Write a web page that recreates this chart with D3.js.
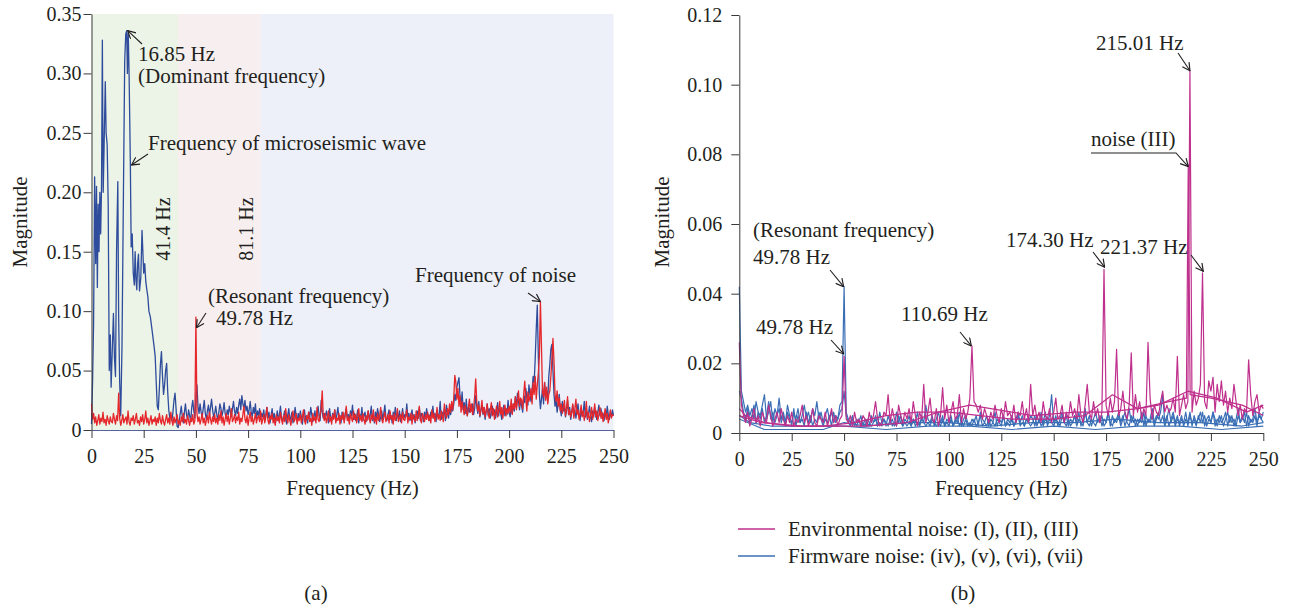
<!DOCTYPE html>
<html>
<head>
<meta charset="utf-8">
<script src="https://cdn.jsdelivr.net/npm/d3@7"></script>
<style>
  body { margin: 0; background: #fff; }
  svg { display: block; }
  svg text { font-family: "Liberation Serif", "Times New Roman", "DejaVu Serif", serif; }
</style>
</head>
<body>
<div id="chart"></div>
<script>
// ---- data (magnitudes in units of 1e-3) ----
var xTicks = [0, 25, 50, 75, 100, 125, 150, 175, 200, 225, 250];
var yTicksA = [0, 0.05, 0.10, 0.15, 0.20, 0.25, 0.30, 0.35];
var yTicksB = [0, 0.02, 0.04, 0.06, 0.08, 0.10, 0.12];
var bandEdges = [0, 41.4, 81.1, 250];
var bandLabels = ["41.4 Hz", "81.1 Hz"];

// (a) red: noise spectrum, 0.5 Hz step from 0 Hz
var redA = [
  22,9,14,6,11,4,8,13,5,10,7,15,6,9,4,12,8,5,11,7,
  6,14,9,5,12,8,31,10,4,8,13,6,9,11,5,16,7,4,10,8,
  12,5,9,14,6,8,4,11,7,13,5,9,16,6,10,4,8,12,5,9,
  7,11,4,10,6,14,8,5,12,7,4,9,13,6,10,5,15,8,4,11,
  6,9,13,5,8,4,11,7,14,6,9,5,12,8,4,10,7,13,5,8,
  95,14,7,11,5,9,14,6,10,4,8,12,6,15,9,5,11,7,13,6,
  10,5,13,8,16,6,11,4,9,14,7,12,5,10,18,7,9,13,6,11,
  8,15,5,10,7,13,20,9,6,12,4,10,15,7,11,5,9,14,6,10,
  12,7,16,5,9,13,6,11,19,8,5,12,9,14,6,10,4,13,8,11,
  6,15,9,5,12,7,18,10,6,13,8,4,11,16,7,9,14,5,10,8,
  13,6,11,17,8,5,12,9,15,7,10,4,14,8,11,6,19,9,7,13,
  18,33,12,8,14,6,10,16,7,11,5,13,9,17,6,10,8,14,5,12,
  9,15,6,12,20,8,11,5,14,10,7,16,9,13,6,11,18,8,12,7,
  14,9,5,12,8,16,10,6,13,9,17,7,11,5,14,8,12,19,9,6,
  11,15,7,10,13,6,16,9,12,5,14,8,11,18,7,10,13,6,15,9,
  8,12,17,6,11,9,14,5,13,10,7,16,8,12,20,9,6,14,11,7,
  13,9,15,8,12,6,17,10,14,7,11,19,9,13,8,16,12,7,22,14,
  10,18,13,22,15,24,17,27,46,40,26,35,20,29,15,24,18,13,21,16,
  12,19,26,15,22,13,18,28,43,24,16,21,12,17,25,14,19,11,16,22,
  14,10,17,23,12,18,9,15,20,11,16,24,13,19,10,17,21,12,18,14,
  20,15,26,13,22,18,28,17,24,33,20,27,25,18,30,41,27,16,32,24,
  28,35,22,40,30,45,26,38,48,62,108,70,32,28,40,25,36,22,30,33,
  45,60,77,58,30,24,33,20,27,16,22,14,19,25,12,18,28,13,17,11,
  15,22,10,18,26,13,17,9,14,21,11,16,8,13,24,10,15,7,12,19,
  9,14,22,11,16,8,13,19,10,15,7,12,18,9,14,6,11,17,10,13,
  12
];

// (a) blue: microseismic spectrum, below 42 Hz as [Hz, value]
var blueLowA = [
  [0,5],[0.5,40],[1,90],[1.5,213],[2,140],[2.4,205],[2.8,120],[3.2,190],[3.6,150],[4,200],
  [4.4,165],[4.8,205],[5.2,328],[5.6,200],[6,235],[6.6,293],[7,250],[7.5,240],[8,190],[8.5,50],
  [9,80],[9.4,36],[10,70],[10.5,98],[11,60],[11.5,45],[12,150],[12.6,209],[13,95],[13.5,40],
  [14,12],[14.6,70],[15.3,200],[15.9,310],[16.4,333],[16.85,336],[17.2,300],[17.6,334],[18,300],[18.6,225],
  [19,154],[19.5,165],[20,132],[20.5,122],[20.9,150],[21.3,126],[21.7,118],[22.1,140],[22.5,148],[23,117],
  [23.6,128],[24.2,168],[24.6,150],[25,132],[25.5,140],[26,125],[26.5,118],[27,112],[27.5,100],[28.2,95],
  [29,84],[30,70],[30.5,62],[31,40],[31.5,20],[32,17],[32.5,35],[33,55],[33.5,66],[34,45],
  [34.5,30],[35,38],[35.5,50],[36,56],[36.5,32],[37,17],[37.5,10],[38,12],[38.5,8],[39,15],
  [39.5,25],[40,31],[40.5,18],[41,3],[41.5,2]
];
// (a) blue from 42 Hz, 0.5 Hz step
var blueHighA = [
  8,14,20,11,6,15,22,13,9,17,12,7,19,25,16,10,28,38,20,14,
  22,15,11,18,25,14,9,16,21,12,19,26,17,11,14,20,13,8,15,22,
  18,12,16,23,14,10,17,13,20,15,11,18,24,16,12,19,14,21,26,17,
  29,22,18,25,16,20,13,17,24,15,11,19,14,22,10,16,12,18,9,14,
  11,17,8,13,19,10,15,6,12,18,9,14,5,11,16,8,13,20,10,7,
  12,16,9,5,13,18,8,11,15,6,10,19,12,7,14,9,16,11,5,13,
  17,8,12,6,15,10,19,13,7,11,16,9,14,20,12,8,25,15,10,14,
  9,16,12,6,18,11,7,14,10,17,8,13,19,9,12,6,15,11,8,14,
  18,10,13,7,16,12,21,9,14,8,11,17,6,13,10,19,8,12,15,7,
  11,16,9,13,20,8,12,6,15,10,18,13,7,11,16,9,14,21,10,8,
  13,17,9,12,6,15,11,19,8,14,10,16,7,12,18,9,13,11,22,10,
  14,8,12,17,9,13,6,11,16,10,19,8,14,12,7,15,10,18,11,13,
  8,15,12,20,10,14,7,16,11,13,24,9,15,12,18,8,21,14,10,17,
  13,19,16,22,30,25,36,40,44,28,20,32,17,23,14,26,12,19,15,21,
  16,22,13,18,29,20,14,24,11,17,21,13,19,9,15,22,12,18,10,14,
  20,13,17,10,15,23,12,19,14,9,16,21,12,18,13,25,15,11,19,14,
  22,16,28,19,31,24,17,26,20,15,29,23,35,27,21,38,30,24,33,45,
  40,60,85,105,62,30,18,26,35,22,40,28,33,24,45,55,68,72,50,30,
  20,26,15,22,30,18,12,24,16,20,11,17,25,13,19,9,15,21,12,17,
  10,16,22,13,8,18,12,15,24,11,17,9,14,20,12,7,16,11,19,13,
  9,15,21,12,18,10,14,8,16,11,20,13,9,15,11,17,12
];

// (b) environmental noise (I): 1 Hz step from 0 Hz
var envI = [
  26,8,5,3,6,2,4,7,3,5, 2,6,4,3,8,5,2,4,6,3, 7,4,2,5,3,6,2,4,3,5, 8,3,5,2,4,7,3,2,5,4,
  3,6,2,4,7,3,5,2,4,5, 22,4,3,5,2,6,3,4,2,5, 4,2,6,3,5,9,4,2,3,6, 5,11,3,7,4,2,8,5,3,6,
  4,7,3,9,5,2,6,4,14,3, 6,10,4,3,7,2,5,13,4,8, 3,6,9,4,5,11,3,7,4,6, 10,25,9,8,6,8,4,7,5,3,
  6,4,8,5,3,7,4,9,5,6, 4,8,3,6,5,9,4,7,3,14, 5,8,4,6,3,9,5,4,7,3, 6,10,4,5,8,3,6,4,9,5,
  7,4,11,5,3,8,14,6,4,9, 5,7,3,6,47,8,5,10,6,9, 24,5,7,12,6,4,8,23,5,11, 6,9,4,7,5,26,10,4,8,6,
  5,9,12,6,8,6,7,10,6,22, 5,8,11,7,9,104,6,12,8,10, 14,46,9,7,15,12,16,6,14,9, 15,8,12,6,10,7,14,9,5,8,
  4,7,6,21,11,5,9,11,6,8, 7
];
// (b) environmental noise (II), (III): [Hz, value]
var envII = [[0,7],[3,5],[12,3],[25,2],[40,2],[55,3],[70,5],[85,6],[100,6],[115,5],[130,4],
  [150,4],[165,5],[178,11],[190,7],[200,8],[214,12],[228,10],[242,6],[250,8]];
var envIII = [[0,5],[10,3],[30,2],[60,2],[80,3],[95,6],[110,8],[120,7],[140,5],[160,6],[175,6],
  [190,7],[205,9],[213.3,10],[214.2,77],[215.1,11],[225,10],[240,8],[250,5]];

// (b) firmware noise (iv), (v): 1 Hz step from 0 Hz
var fwIV = [
  42,12,9,6,8,5,7,4,9,6, 5,8,11,4,6,9,3,7,5,10, 4,6,3,8,5,2,6,4,7,3, 5,8,4,6,3,7,5,9,4,6,
  3,5,7,4,6,3,5,4,8,9, 42,6,4,3,5,2,4,3,5,2, 4,3,2,5,3,4,2,6,3,4, 2,5,3,4,2,6,3,5,2,4,
  3,5,2,4,3,6,2,4,3,8, 4,3,5,2,4,6,3,5,2,4, 3,5,2,4,3,6,2,4,5,3, 2,4,3,5,2,6,4,3,5,2,
  4,3,6,2,4,3,5,2,4,3, 5,2,4,6,3,5,2,4,3,5, 4,2,5,3,6,2,4,3,5,11, 3,5,2,4,6,3,5,2,4,3,
  5,3,6,2,4,7,3,5,2,4, 6,3,5,2,4,3,6,2,5,3, 4,6,3,5,2,4,7,3,5,2, 4,3,6,2,5,3,4,7,3,5,
  4,6,11,3,5,2,4,6,3,5, 2,4,3,6,2,5,3,4,2,5, 3,6,2,4,5,3,6,2,4,3, 5,2,4,6,3,5,2,4,7,3,
  5,3,6,2,4,3,5,2,6,4, 3
];
var fwV = [
  12,10,6,4,7,3,5,8,3,6, 4,7,3,5,9,4,6,3,5,7, 3,5,2,6,4,3,7,2,5,3, 4,2,6,3,5,2,4,3,6,4,
  2,4,3,5,2,6,3,4,6,7, 12,5,3,2,4,3,2,4,2,3, 2,4,3,2,3,5,2,3,2,4, 3,2,4,2,3,2,5,3,2,3,
  2,3,2,4,2,3,2,5,3,2, 3,2,4,3,2,3,2,4,2,3, 2,4,2,3,5,2,3,2,4,2, 3,2,4,2,3,5,2,3,2,4,
  2,3,2,4,3,2,5,2,3,2, 4,2,3,5,2,3,2,4,3,2, 3,5,2,4,2,3,6,2,4,3, 2,4,3,2,5,3,2,4,2,3,
  5,2,4,3,2,6,3,2,4,3, 2,4,3,5,2,3,6,3,2,4, 3,5,2,4,6,3,2,5,3,4, 2,4,3,6,2,4,3,5,2,4,
  6,3,5,2,4,7,3,5,2,4, 3,5,2,4,3,6,2,5,3,4, 6,3,5,2,4,3,6,4,2,5, 3,4,6,2,5,3,4,2,5,3,
  4,6,2,5,3,4,7,3,5,4, 6
];
// (b) firmware noise (vi), (vii): [Hz, value]
var fwVI = [[0,5],[5,3],[15,2],[30,2],[50,2],[70,1],[90,2],[110,2],[130,1],[150,2],[170,1],
  [190,2],[210,2],[230,1],[250,2]];
var fwVII = [[0,4],[4,3],[12,1],[25,1],[40,1],[50,3],[60,2],[80,3],[100,3],[120,2],[140,3],
  [160,3],[180,4],[200,3],[220,3],[240,2],[250,3]];

// ---- helpers ----
function stepPts(arr, start, step) {
  return arr.map(function(v, i) { return [start + i * step, v / 1000]; });
}
function pairPts(arr) {
  return arr.map(function(d) { return [d[0], d[1] / 1000]; });
}
var fmt = function(d) { return d === 0 ? "0" : d3.format(".2f")(d); };
var INK = "#231f20";
var FS = 21;

var svg = d3.select("#chart").append("svg")
  .attr("width", 1290).attr("height", 610);

svg.append("defs").append("marker")
  .attr("id", "arr")
  .attr("viewBox", "0 0 10 10")
  .attr("refX", 9.5).attr("refY", 5)
  .attr("markerWidth", 9).attr("markerHeight", 9)
  .attr("markerUnits", "userSpaceOnUse")
  .attr("orient", "auto")
  .append("path")
  .attr("d", "M1,0.5 L9.5,5 L1,9.5")
  .attr("fill", "none").attr("stroke", INK).attr("stroke-width", 1.3);

function arrow(pts) {
  svg.append("path")
    .attr("d", d3.line()(pts))
    .attr("fill", "none").attr("stroke", INK).attr("stroke-width", 1.1)
    .attr("marker-end", "url(#arr)");
}
function label(x, y, s, size) {
  return svg.append("text").attr("x", x).attr("y", y)
    .attr("font-size", size || FS).attr("fill", INK).text(s);
}
function styleAxis(g) {
  g.attr("font-family", null).attr("font-size", 20);
  g.selectAll("text").attr("fill", INK);
  g.selectAll("line").attr("stroke", "#3a3a3a");
  g.select(".domain").attr("stroke", "#3a3a3a");
}

// ================= panel (a) =================
var xA = d3.scaleLinear().domain([0, 250]).range([91.5, 613.5]);
var yA = d3.scaleLinear().domain([0, 0.35]).range([430, 14]);
var bandFill = ["#ecf4e7", "#f7efef", "#edf0f8"];

svg.append("g").selectAll("rect")
  .data(d3.range(bandEdges.length - 1))
  .enter().append("rect")
  .attr("x", function(i) { return xA(bandEdges[i]); })
  .attr("width", function(i) { return xA(bandEdges[i + 1]) - xA(bandEdges[i]); })
  .attr("y", yA(0.35))
  .attr("height", yA(0) - yA(0.35))
  .attr("fill", function(i) { return bandFill[i]; });

var lineA = d3.line().x(function(d) { return xA(d[0]); }).y(function(d) { return yA(d[1]); });
var blueA = pairPts(blueLowA).concat(stepPts(blueHighA, 42, 0.5));
svg.append("path").attr("d", lineA(blueA))
  .attr("fill", "none").attr("stroke", "#2f4c9c").attr("stroke-width", 1.3)
  .attr("stroke-linejoin", "round");
svg.append("path").attr("d", lineA(stepPts(redA, 0, 0.5)))
  .attr("fill", "none").attr("stroke", "#e5262b").attr("stroke-width", 1.3)
  .attr("stroke-linejoin", "round");

var gxA = svg.append("g").attr("transform", "translate(0," + yA(0) + ")")
  .call(d3.axisBottom(xA).tickValues(xTicks).tickSize(8).tickSizeOuter(0).tickPadding(11));
styleAxis(gxA);
gxA.select(".domain").attr("stroke", "#56629c");
var gyA = svg.append("g").attr("transform", "translate(" + xA(0) + ",0)")
  .call(d3.axisLeft(yA).tickValues(yTicksA).tickFormat(fmt).tickSize(8).tickSizeOuter(0).tickPadding(2));
styleAxis(gyA);

// band edge labels (vertical)
bandLabels.forEach(function(s, i) {
  svg.append("text")
    .attr("transform", "translate(" + (xA(bandEdges[i + 1]) - 8) + "," + 229 + ") rotate(-90)")
    .attr("text-anchor", "middle").attr("font-size", 20).attr("fill", INK).text(s);
});

svg.append("text").attr("transform", "translate(27,222) rotate(-90)")
  .attr("text-anchor", "middle").attr("font-size", FS).attr("fill", INK).text("Magnitude");
svg.append("text").attr("x", (xA(0) + xA(250)) / 2).attr("y", 495)
  .attr("text-anchor", "middle").attr("font-size", FS).attr("fill", INK).text("Frequency (Hz)");
svg.append("text").attr("x", 316).attr("y", 600)
  .attr("text-anchor", "middle").attr("font-size", FS).attr("fill", INK).text("(a)");

// annotations (a)
label(138, 61, "16.85 Hz");
label(138, 83, "(Dominant frequency)");
arrow([[142, 44], [xA(16.85) + 1, yA(0.336)]]);
label(148, 150, "Frequency of microseismic wave");
arrow([[148, 154], [xA(18.7) + 1, yA(0.223)]]);
label(208, 303, "(Resonant frequency)");
label(216, 325, "49.78 Hz");
arrow([[206, 313], [xA(49.78) + 1, yA(0.086)]]);
label(415, 282, "Frequency of noise");
arrow([[528, 293], [xA(215), yA(0.108)]]);

// ================= panel (b) =================
var xB = d3.scaleLinear().domain([0, 250]).range([739.3, 1263.3]);
var yB = d3.scaleLinear().domain([0, 0.12]).range([433, 15]);
var lineB = d3.line().x(function(d) { return xB(d[0]); }).y(function(d) { return yB(d[1]); });
var MAG = "#bf2f8c", BLU = "#3a6fb6";

var fwSeries = [pairPts(fwVI), pairPts(fwVII), stepPts(fwV, 0, 1), stepPts(fwIV, 0, 1)];
var envSeries = [pairPts(envII), pairPts(envIII), stepPts(envI, 0, 1)];
fwSeries.forEach(function(s) {
  svg.append("path").attr("d", lineB(s)).attr("fill", "none")
    .attr("stroke", BLU).attr("stroke-width", 1.2).attr("stroke-linejoin", "round");
});
envSeries.forEach(function(s) {
  svg.append("path").attr("d", lineB(s)).attr("fill", "none")
    .attr("stroke", MAG).attr("stroke-width", 1.2).attr("stroke-linejoin", "round");
});

var gxB = svg.append("g").attr("transform", "translate(0," + yB(0) + ")")
  .call(d3.axisBottom(xB).tickValues(xTicks).tickSize(8).tickSizeOuter(0).tickPadding(11));
styleAxis(gxB);
var gyB = svg.append("g").attr("transform", "translate(" + xB(0) + ",0)")
  .call(d3.axisLeft(yB).tickValues(yTicksB).tickFormat(fmt).tickSize(8).tickSizeOuter(0).tickPadding(9));
styleAxis(gyB);

svg.append("text").attr("transform", "translate(669,222) rotate(-90)")
  .attr("text-anchor", "middle").attr("font-size", FS).attr("fill", INK).text("Magnitude");
svg.append("text").attr("x", (xB(0) + xB(250)) / 2).attr("y", 495)
  .attr("text-anchor", "middle").attr("font-size", FS).attr("fill", INK).text("Frequency (Hz)");
svg.append("text").attr("x", 963).attr("y", 600)
  .attr("text-anchor", "middle").attr("font-size", FS).attr("fill", INK).text("(b)");

// annotations (b)
label(1096, 50, "215.01 Hz");
arrow([[1178, 53], [xB(215.01), yB(0.104)]]);
label(1091, 146, "noise (III)");
arrow([[1091, 153], [1176, 153], [xB(214.2), yB(0.0765)]]);
label(1006, 247, "174.30 Hz");
arrow([[1093, 252], [xB(174.3), yB(0.0476)]]);
label(1100, 254, "221.37 Hz");
arrow([[1191, 255], [xB(221.37), yB(0.0464)]]);
label(753, 237, "(Resonant frequency)");
label(753, 264, "49.78 Hz");
arrow([[830, 270], [xB(49.78), yB(0.042)]]);
label(756, 334, "49.78 Hz");
arrow([[831, 340], [xB(49.78), yB(0.0227)]]);
label(901, 321, "110.69 Hz");
arrow([[960, 332], [xB(110.69), yB(0.025)]]);

// legend
var legendItems = [
  { name: "Environmental noise: (I), (II), (III)", color: MAG },
  { name: "Firmware noise: (iv), (v), (vi), (vii)", color: BLU }
];
legendItems.forEach(function(d, i) {
  var y = 529 + i * 27;
  svg.append("line").attr("x1", 738).attr("x2", 775).attr("y1", y).attr("y2", y)
    .attr("stroke", d.color).attr("stroke-width", 1.6);
  label(788, y + 7, d.name);
});
</script>
</body>
</html>
